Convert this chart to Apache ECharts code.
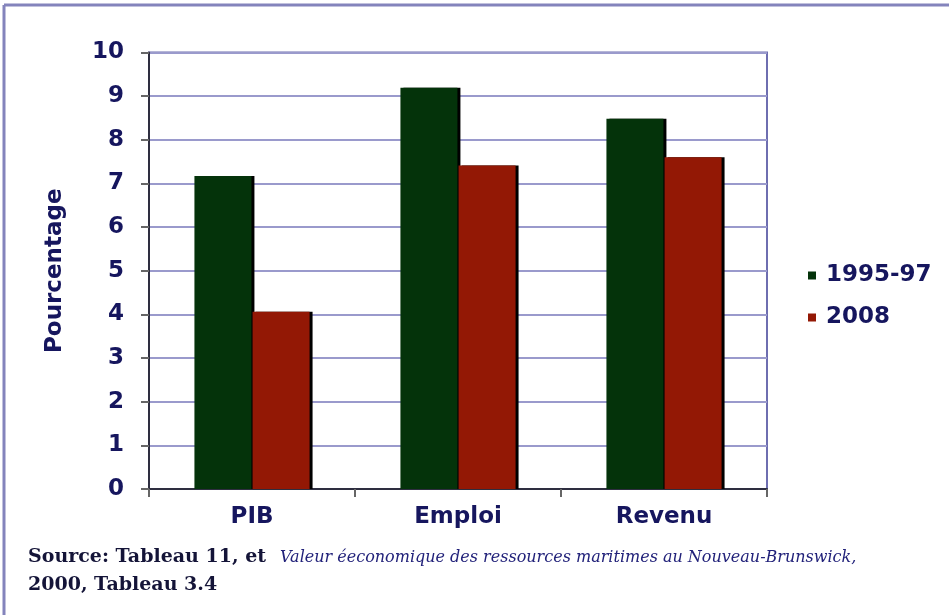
<!DOCTYPE html>
<html>
<head>
<meta charset="utf-8">
<script src="https://cdn.jsdelivr.net/npm/echarts@6/dist/echarts.min.js"></script>
<style>
html,body{margin:0;padding:0;background:#fff;}
#main{width:949px;height:615px;}
</style>
</head>
<body>
<div id="main"></div>
<script>
var categories = ['PIB', 'Emploi', 'Revenu'];
var seriesNames = ['1995-97', '2008'];
var values1995 = [7.17, 9.19, 8.48];
var values2008 = [4.06, 7.41, 7.6];
var yTicks = [0, 1, 2, 3, 4, 5, 6, 7, 8, 9, 10];
var yAxisTitle = 'Pourcentage';
var sourceBold = 'Source: Tableau 11, et';
var sourceItalic = 'Valeur éeconomique des ressources maritimes au Nouveau-Brunswick,';
var sourceLine2 = '2000, Tableau 3.4';

var navy = '#16165e';
var font = '"DejaVu Sans", Verdana, sans-serif';
var chart = echarts.init(document.getElementById('main'), null, {renderer: 'canvas'});

function barStyle(color) {
  return {
    color: color,
    shadowColor: '#000',
    shadowBlur: 0,
    shadowOffsetX: 3,
    shadowOffsetY: 0
  };
}

chart.setOption({
  animation: false,
  backgroundColor: '#fff',
  grid: {
    left: 149, right: 182, top: 52.5, bottom: 126,
    show: true, borderColor: '#6e6eb0', borderWidth: 2, backgroundColor: 'transparent'
  },
  legend: {
    orient: 'vertical',
    left: 803, top: 259,
    itemWidth: 8, itemHeight: 8,
    itemGap: 19,
    icon: 'rect',
    data: seriesNames,
    textStyle: {
      fontFamily: font, fontWeight: 'bold', fontSize: 23, color: navy,
      lineHeight: 23, padding: [0, 0, 0, 5]
    }
  },
  xAxis: {
    type: 'category',
    data: categories,
    axisLine: {lineStyle: {color: '#2e2e40', width: 2}},
    axisTick: {show: true, length: 8, lineStyle: {color: '#666', width: 2}},
    axisLabel: {fontFamily: font, fontWeight: 'bold', fontSize: 23, color: navy, margin: 17},
    splitLine: {show: false}
  },
  yAxis: {
    type: 'value',
    min: yTicks[0], max: yTicks[yTicks.length - 1], interval: 1,
    name: yAxisTitle,
    nameLocation: 'middle',
    nameRotate: 90,
    nameGap: 82,
    nameTextStyle: {fontFamily: font, fontWeight: 'bold', fontSize: 23, color: navy},
    axisLine: {show: true, lineStyle: {color: '#2e2e40', width: 2}},
    axisTick: {show: true, length: 8, lineStyle: {color: '#666', width: 2}},
    axisLabel: {fontFamily: font, fontWeight: 'bold', fontSize: 23, color: navy, margin: 25},
    splitLine: {show: true, lineStyle: {color: '#9a9acc', width: 2}}
  },
  series: [
    {
      name: seriesNames[0], type: 'bar', data: values1995,
      barWidth: 57, barGap: '2%',
      itemStyle: barStyle('#04330a')
    },
    {
      name: seriesNames[1], type: 'bar', data: values2008,
      barWidth: 57, barGap: '2%',
      itemStyle: barStyle('#931805')
    }
  ],
  graphic: [
    {type: 'line', shape: {x1: 4, y1: 5, x2: 949, y2: 5}, style: {stroke: '#8484bc', lineWidth: 3}, silent: true},
    {type: 'line', shape: {x1: 4, y1: 5, x2: 4, y2: 615}, style: {stroke: '#8484bc', lineWidth: 3}, silent: true},
    {type: 'text', left: 28, top: 548, style: {text: sourceBold, font: 'bold 19px "DejaVu Serif", serif', fill: '#141438'}},
    {type: 'text', left: 280, top: 550, style: {text: sourceItalic, font: 'italic 16px "DejaVu Serif", serif', fill: '#22227a'}},
    {type: 'text', left: 28, top: 576, style: {text: sourceLine2, font: 'bold 19px "DejaVu Serif", serif', fill: '#141438'}}
  ]
});
</script>
</body>
</html>
